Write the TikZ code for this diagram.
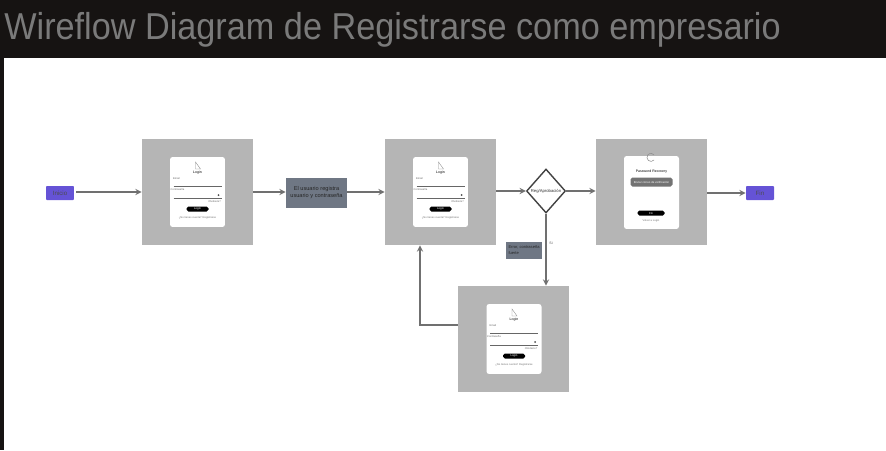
\documentclass[tikz,border=0pt]{standalone}
\usepackage{fontspec}
\setmainfont{Liberation Sans}
\newfontfamily\titlefont[FakeStretch=0.915]{Liberation Sans}
\usetikzlibrary{arrows,shapes.geometric}
\definecolor{banner}{HTML}{161312}
\definecolor{titlegray}{HTML}{7A7A7A}
\definecolor{framegray}{HTML}{B5B5B5}
\definecolor{notegray}{HTML}{6F7784}
\definecolor{startblue}{HTML}{6553D6}
\definecolor{wiregray}{HTML}{707070}
\tikzset{
  frame/.style={fill=framegray,draw=none,minimum width=2.22cm,minimum height=2.12cm,inner sep=0pt},
  card/.style={fill=white,rounded corners=1.5pt,minimum width=1.1cm,minimum height=1.4cm,inner sep=0pt},
  note/.style={fill=notegray,align=left,inner sep=0pt,text=black!85,font=\fontsize{3.2}{4.4}\selectfont},
  terminal/.style={fill=startblue,rounded corners=0.5pt,minimum width=0.56cm,minimum height=0.28cm,inner sep=0pt,font=\fontsize{3.5}{4}\selectfont,text=black!70},
  wire/.style={-stealth,draw=wiregray,line width=0.6pt},
  tiny/.style={font=\fontsize{2}{2.5}\selectfont,inner sep=0pt},
  pill/.style={fill=black,rounded corners=1pt,minimum width=0.44cm,minimum height=0.1cm,inner sep=0pt,text=white,font=\fontsize{1.6}{2}\selectfont}
}
\begin{document}
\begin{tikzpicture}[x=0.02cm,y=-0.02cm]
	\useasboundingbox (0,0) rectangle (886,450);
	\fill [banner] (0,0) rectangle (886,58);
	\fill [banner] (0,58) rectangle (4,450);
	\node (title) at (4,39) [anchor=base west,inner sep=0pt,text=titlegray,font=\titlefont\fontsize{21.3}{25}\selectfont] {Wireflow Diagram de Registrarse como empresario};

	\node (inicio) at (60,193) [terminal] {Inicio};
	\node (fin) at (760,193) [terminal] {Fin};
	\node (frameone) at (197.5,192) [frame] {};
	\node (frametwo) at (440.5,192) [frame] {};
	\node (framethree) at (651.5,192) [frame] {};
	\node (framefour) at (513.5,339) [frame] {};
	\node (usuario) at (316.5,192.5) [note,minimum width=1.22cm,minimum height=0.6cm,align=center] {El usuario registra\\usuario y contraseña};
	\node (error) at (524,250.5) [note,minimum width=0.72cm,minimum height=0.34cm,font=\fontsize{2.3}{3.4}\selectfont] {Error, contraseña\\fuerte};
	\node (decision) at (546,191) [diamond,draw=wiregray!60!black,fill=white,thick,minimum width=0.78cm,minimum height=0.88cm,inner sep=0pt,font=\fontsize{2.4}{3}\selectfont,text=black!80] {Reg/Aprobación};
	\node (si) at (551,243) [tiny,text=black!70] {Si};

	% pantallas con formulario
	\foreach \screen/\cx/\cy in {one/197.5/192,two/440.5/192,four/514/339}{
		\begin{scope}[shift={(\cx,\cy)}]
			\node (card\screen) at (0,0) [card] {};
			\draw [black!45,line width=0.2pt] (-2,-30) -- (-2,-23) -- (3,-23) -- cycle;
			\node (login\screen) at (0,-19) [tiny] {Login};
			\node (user\screen) at (-21,-13) [tiny,text=black!60,font=\fontsize{1.5}{2}\selectfont] {Email};
			\node (pass\screen) at (-20,-2) [tiny,text=black!60,font=\fontsize{1.5}{2}\selectfont] {Contraseña};
			\draw [black!60,line width=0.25pt] (-24,-6) -- (24,-6);
			\draw [black!60,line width=0.25pt] (-24,6) -- (24,6);
			\fill [black!70] (21,3) circle (1);
			\node (forgot\screen) at (17,10) [tiny,text=black!55,font=\fontsize{1.5}{2}\selectfont] {Olvidaste?};
			\node (enter\screen) at (0,17) [pill] {Login};
			\node (foot\screen) at (0,26) [tiny,text=black!55,font=\fontsize{1.5}{2}\selectfont] {¿No tienes cuenta? Registrarse};
		\end{scope}
	}

	% pantalla de recuperar
	\node (cardthree) at (651.5,192.5) [card,minimum height=1.46cm] {};
	\draw [black!45,line width=0.3pt] (654,160) arc (40:320:4);
	\node (recover) at (651.5,172) [tiny] {Password Recovery};
	\node (mailbox) at (651.5,182) [fill=black!55,rounded corners=1pt,minimum width=0.84cm,minimum height=0.18cm,inner sep=0pt,text=white,font=\fontsize{1.6}{2}\selectfont] {Enviar correo de verificación};
	\node (enterthree) at (651,213) [pill,minimum width=0.54cm] {Fin};
	\node (footthree) at (651,221) [tiny,text=black!55,font=\fontsize{1.5}{2}\selectfont] {Volver a Login};

	\coordinate (iniciostart) at (76,192);
	\draw [wire] (iniciostart) -- (frameone.west |- iniciostart);
	\draw [wire] (frameone.east) -- (usuario.west |- frameone.east);
	\draw [wire] (usuario.east |- frametwo.west) -- (frametwo.west);
	\draw [wire] (frametwo.east |- decision.west) -- (decision.west);
	\draw [wire] (decision.east) -- (framethree.west |- decision.east);
	\draw [wire] (framethree.east |- fin.west) -- (fin.west);
	\draw [wire] (decision.south) -- (framefour.north -| decision.south);
	\coordinate (bend) at (420,325);
	\draw [wire] (framefour.west |- bend) -- (bend) -- (bend |- frametwo.south);
\end{tikzpicture}
\end{document}
